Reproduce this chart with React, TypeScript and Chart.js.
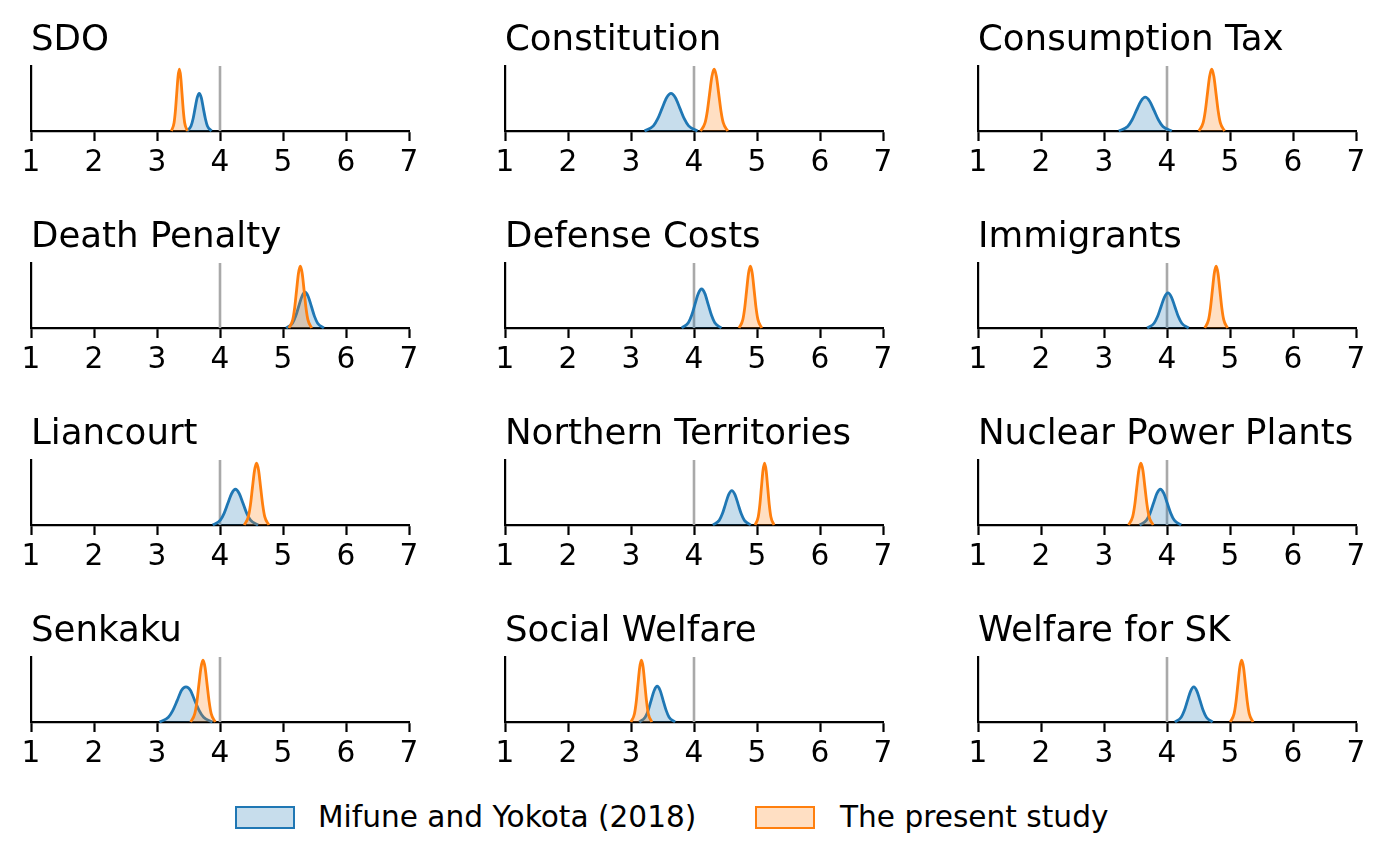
import React, { useEffect, useRef } from "react";
import { Chart, registerables } from "chart.js";

Chart.register(...registerables);

// ---------- data ----------
const xTicks = [1, 2, 3, 4, 5, 6, 7];
const neutralPoint = 4;
const seriesNames = ["Mifune and Yokota (2018)", "The present study"];

const titles = [
  "SDO", "Constitution", "Consumption Tax",
  "Death Penalty", "Defense Costs", "Immigrants",
  "Liancourt", "Northern Territories", "Nuclear Power Plants",
  "Senkaku", "Social Welfare", "Welfare for SK",
];

type Pt = [number, number];

const sdoMifune: Pt[] = [[3.475,0],[3.54,0.078],[3.573,0.189],[3.605,0.352],[3.638,0.512],[3.67,0.58],[3.703,0.512],[3.735,0.352],[3.768,0.189],[3.8,0.078],[3.865,0]];
const sdoPresent: Pt[] = [[3.229,0],[3.271,0.128],[3.292,0.309],[3.313,0.577],[3.334,0.838],[3.355,0.95],[3.376,0.838],[3.397,0.577],[3.418,0.309],[3.439,0.128],[3.481,0]];

const constitutionMifune: Pt[] = [[3.215,0],[3.355,0.078],[3.425,0.189],[3.495,0.352],[3.565,0.512],[3.635,0.58],[3.705,0.512],[3.775,0.352],[3.845,0.189],[3.915,0.078],[4.055,0]];
const constitutionPresent: Pt[] = [[4.104,0],[4.176,0.128],[4.212,0.309],[4.248,0.577],[4.284,0.838],[4.32,0.95],[4.356,0.838],[4.392,0.577],[4.428,0.309],[4.464,0.128],[4.536,0]];

const consumptionMifune: Pt[] = [[3.235,0],[3.375,0.07],[3.445,0.169],[3.515,0.316],[3.585,0.459],[3.655,0.52],[3.725,0.459],[3.795,0.316],[3.865,0.169],[3.935,0.07],[4.075,0]];
const consumptionPresent: Pt[] = [[4.506,0],[4.574,0.128],[4.608,0.309],[4.642,0.577],[4.676,0.838],[4.71,0.95],[4.744,0.838],[4.778,0.577],[4.812,0.309],[4.846,0.128],[4.914,0]];

const deathMifune: Pt[] = [[5.05,0],[5.15,0.074],[5.2,0.179],[5.25,0.334],[5.3,0.485],[5.35,0.55],[5.4,0.485],[5.45,0.334],[5.5,0.179],[5.55,0.074],[5.65,0]];
const deathPresent: Pt[] = [[5.095,0],[5.155,0.128],[5.185,0.309],[5.215,0.577],[5.245,0.838],[5.275,0.95],[5.305,0.838],[5.335,0.577],[5.365,0.309],[5.395,0.128],[5.455,0]];

const defenseMifune: Pt[] = [[3.805,0],[3.91,0.081],[3.963,0.195],[4.015,0.364],[4.068,0.529],[4.12,0.6],[4.173,0.529],[4.225,0.364],[4.278,0.195],[4.33,0.081],[4.435,0]];
const defensePresent: Pt[] = [[4.715,0],[4.775,0.128],[4.805,0.309],[4.835,0.577],[4.865,0.838],[4.895,0.95],[4.925,0.838],[4.955,0.577],[4.985,0.309],[5.015,0.128],[5.075,0]];

const immigrantsMifune: Pt[] = [[3.685,0],[3.795,0.073],[3.85,0.176],[3.905,0.328],[3.96,0.476],[4.015,0.54],[4.07,0.476],[4.125,0.328],[4.18,0.176],[4.235,0.073],[4.345,0]];
const immigrantsPresent: Pt[] = [[4.6,0],[4.66,0.128],[4.69,0.309],[4.72,0.577],[4.75,0.838],[4.78,0.95],[4.81,0.838],[4.84,0.577],[4.87,0.309],[4.9,0.128],[4.96,0]];

const liancourtMifune: Pt[] = [[3.885,0],[4.005,0.074],[4.065,0.179],[4.125,0.334],[4.185,0.485],[4.245,0.55],[4.305,0.485],[4.365,0.334],[4.425,0.179],[4.485,0.074],[4.605,0]];
const liancourtPresent: Pt[] = [[4.385,0],[4.45,0.128],[4.483,0.309],[4.515,0.577],[4.548,0.838],[4.58,0.95],[4.613,0.838],[4.645,0.577],[4.678,0.309],[4.71,0.128],[4.775,0]];

const northernMifune: Pt[] = [[4.3,0],[4.4,0.072],[4.45,0.172],[4.5,0.322],[4.55,0.467],[4.6,0.53],[4.65,0.467],[4.7,0.322],[4.75,0.172],[4.8,0.072],[4.9,0]];
const northernPresent: Pt[] = [[4.97,0],[5.02,0.128],[5.045,0.309],[5.07,0.577],[5.095,0.838],[5.12,0.95],[5.145,0.838],[5.17,0.577],[5.195,0.309],[5.22,0.128],[5.27,0]];

const nuclearMifune: Pt[] = [[3.565,0],[3.675,0.074],[3.73,0.179],[3.785,0.334],[3.84,0.485],[3.895,0.55],[3.95,0.485],[4.005,0.334],[4.06,0.179],[4.115,0.074],[4.225,0]];
const nuclearPresent: Pt[] = [[3.39,0],[3.455,0.128],[3.488,0.309],[3.52,0.577],[3.553,0.838],[3.585,0.95],[3.618,0.838],[3.65,0.577],[3.683,0.309],[3.715,0.128],[3.78,0]];

const senkakuMifune: Pt[] = [[3.04,0],[3.18,0.073],[3.25,0.176],[3.32,0.328],[3.39,0.49],[3.46,0.54],[3.53,0.49],[3.6,0.328],[3.67,0.176],[3.74,0.073],[3.88,0]];
const senkakuPresent: Pt[] = [[3.535,0],[3.6,0.128],[3.633,0.309],[3.665,0.577],[3.698,0.838],[3.73,0.95],[3.763,0.838],[3.795,0.577],[3.828,0.309],[3.86,0.128],[3.925,0]];

const socialMifune: Pt[] = [[3.13,0],[3.225,0.074],[3.273,0.179],[3.32,0.334],[3.368,0.485],[3.415,0.55],[3.463,0.485],[3.51,0.334],[3.558,0.179],[3.605,0.074],[3.7,0]];
const socialPresent: Pt[] = [[3.0,0],[3.055,0.128],[3.083,0.309],[3.11,0.577],[3.138,0.838],[3.165,0.95],[3.193,0.838],[3.22,0.577],[3.248,0.309],[3.275,0.128],[3.33,0]];

const skMifune: Pt[] = [[4.125,0],[4.225,0.073],[4.275,0.176],[4.325,0.328],[4.375,0.476],[4.425,0.54],[4.475,0.476],[4.525,0.328],[4.575,0.176],[4.625,0.073],[4.725,0]];
const skPresent: Pt[] = [[5.005,0],[5.065,0.128],[5.095,0.309],[5.125,0.577],[5.155,0.838],[5.185,0.95],[5.215,0.838],[5.245,0.577],[5.275,0.309],[5.305,0.128],[5.365,0]];

const mifuneSeries: Pt[][] = [
  sdoMifune, constitutionMifune, consumptionMifune,
  deathMifune, defenseMifune, immigrantsMifune,
  liancourtMifune, northernMifune, nuclearMifune,
  senkakuMifune, socialMifune, skMifune,
];
const presentSeries: Pt[][] = [
  sdoPresent, constitutionPresent, consumptionPresent,
  deathPresent, defensePresent, immigrantsPresent,
  liancourtPresent, northernPresent, nuclearPresent,
  senkakuPresent, socialPresent, skPresent,
];

// ---------- layout / style ----------
const FONT = '"DejaVu Sans", sans-serif';
const BLUE = "#1f77b4";
const ORANGE = "#ff7f0e";
const BLUE_FILL = "rgba(31,119,180,0.25)";
const ORANGE_FILL = "rgba(255,127,14,0.25)";
const GRAY = "#a9a9a9";

const TITLE_SIZE = 35.6;
const LABEL_SIZE = 29.6;

const COL_LEFT = [31, 505, 978];
const ROW_TOP = [66, 263, 460, 657];
const AX_W = 378;
const AX_H = 65;
const PAD_L = 16;
const PAD_R = 16;
const PAD_T = 50;
const X_AXIS_H = 50;
const CW = PAD_L + AX_W + PAD_R;
const CH = PAD_T + AX_H + X_AXIS_H;

function Panel({ title, blue, orange, left, top }: { title: string; blue: Pt[]; orange: Pt[]; left: number; top: number }) {
  const ref = useRef<HTMLCanvasElement>(null);
  useEffect(() => {
    if (!ref.current) return;
    const titlePlugin = {
      id: "panelTitle",
      afterDraw(chart: any) {
        const { ctx, chartArea } = chart;
        ctx.save();
        ctx.font = `${TITLE_SIZE}px ${FONT}`;
        ctx.fillStyle = "#000";
        ctx.textAlign = "left";
        ctx.textBaseline = "alphabetic";
        ctx.fillText(title, chartArea.left, chartArea.top - 16);
        ctx.restore();
      },
    };
    const chart = new Chart(ref.current, {
      type: "line",
      data: {
        datasets: [
          {
            data: orange as any,
            borderColor: ORANGE,
            backgroundColor: ORANGE_FILL,
            borderWidth: 2.8,
            fill: "origin",
            pointRadius: 0,
            cubicInterpolationMode: "monotone",
            order: 0,
            clip: 8,
          } as any,
          {
            data: blue as any,
            borderColor: BLUE,
            backgroundColor: BLUE_FILL,
            borderWidth: 2.8,
            fill: "origin",
            pointRadius: 0,
            cubicInterpolationMode: "monotone",
            order: 1,
            clip: 8,
          } as any,
          {
            data: [[neutralPoint, 0], [neutralPoint, 1]] as any,
            borderColor: GRAY,
            borderWidth: 2.6,
            fill: false,
            pointRadius: 0,
            order: 2,
          } as any,
        ],
      },
      options: {
        animation: false,
        responsive: false,
        devicePixelRatio: 1,
        events: [],
        layout: { padding: { top: PAD_T, left: PAD_L, right: PAD_R, bottom: 0 } },
        plugins: { legend: { display: false }, tooltip: { enabled: false } },
        scales: {
          x: {
            type: "linear",
            min: xTicks[0],
            max: xTicks[xTicks.length - 1],
            afterBuildTicks(scale: any) {
              scale.ticks = xTicks.map((v) => ({ value: v }));
            },
            afterFit(scale: any) {
              scale.height = X_AXIS_H;
            },
            ticks: {
              color: "#000",
              font: { family: FONT, size: LABEL_SIZE },
              padding: 5,
              maxRotation: 0,
              autoSkip: false,
            },
            grid: {
              display: true,
              drawOnChartArea: false,
              drawTicks: true,
              tickLength: 10,
              tickColor: "#000",
              tickWidth: 2.2,
            },
            border: { display: true, color: "#000", width: 2.2 },
          },
          y: {
            type: "linear",
            min: 0,
            max: 1,
            afterFit(scale: any) {
              scale.width = 0;
            },
            ticks: { display: false },
            grid: { display: false },
            border: { display: true, color: "#000", width: 2.2 },
          },
        },
      } as any,
      plugins: [titlePlugin],
    });
    return () => chart.destroy();
  }, [title, blue, orange]);
  return (
    <canvas
      ref={ref}
      width={CW}
      height={CH}
      style={{ position: "absolute", left: left - PAD_L, top: top - PAD_T, width: CW, height: CH }}
    />
  );
}

export default function App() {
  const legendText: React.CSSProperties = {
    position: "absolute",
    top: 803,
    fontFamily: FONT,
    fontSize: LABEL_SIZE,
    lineHeight: `${LABEL_SIZE}px`,
    color: "#000",
    whiteSpace: "nowrap",
  };
  const patch = (left: number, fill: string, edge: string): React.CSSProperties => ({
    position: "absolute",
    left,
    top: 806,
    width: 56,
    height: 19,
    background: fill,
    border: `2.5px solid ${edge}`,
  });
  return (
    <div style={{ position: "fixed", left: 0, top: 0, width: 1386, height: 867, background: "#fff", overflow: "hidden" }}>
      {titles.map((t, i) => (
        <Panel
          key={t}
          title={t}
          blue={mifuneSeries[i]}
          orange={presentSeries[i]}
          left={COL_LEFT[i % 3]}
          top={ROW_TOP[Math.floor(i / 3)]}
        />
      ))}
      <div style={patch(235, BLUE_FILL, BLUE)} />
      <div style={{ ...legendText, left: 318 }}>{seriesNames[0]}</div>
      <div style={patch(755, ORANGE_FILL, ORANGE)} />
      <div style={{ ...legendText, left: 840 }}>{seriesNames[1]}</div>
    </div>
  );
}
